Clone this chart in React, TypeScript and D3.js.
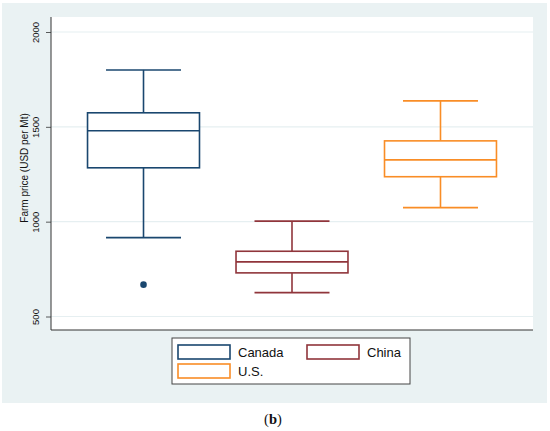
import React, { useEffect, useRef } from "react";
import * as d3 from "d3";

// values (USD per Mt)
const countries = ["Canada", "China", "U.S."];
const colors = ["#1a476f", "#90353b", "#f98d26"];
const whiskerLow = [916, 626, 1074];
const q1 = [1284, 730, 1237];
const medians = [1479, 788, 1326];
const q3 = [1574, 844, 1426];
const whiskerHigh = [1800, 1003, 1637];
const outliers = [{ country: "Canada", value: 668 }];
const yTicks = [500, 1000, 1500, 2000];

const W = 550;
const H = 431;

const App = () => {
  const ref = useRef<SVGSVGElement>(null);

  useEffect(() => {
    const svg = d3.select(ref.current);
    svg.selectAll("*").remove();

    const plot = { left: 51, right: 533, top: 17, bottom: 330 };

    // stata-ish background
    svg
      .append("rect")
      .attr("x", 2)
      .attr("y", 3)
      .attr("width", 545)
      .attr("height", 400)
      .attr("fill", "#eaf2f3");
    svg
      .append("rect")
      .attr("x", plot.left)
      .attr("y", plot.top)
      .attr("width", plot.right - plot.left)
      .attr("height", plot.bottom - plot.top)
      .attr("fill", "#ffffff");

    const y = d3.scaleLinear().domain([500, 2000]).range([316.5, 32]);
    const x = d3
      .scalePoint()
      .domain(countries)
      .range([plot.left, plot.right])
      .padding(0.623);
    const step = x.step();
    const boxW = step * 0.754;
    const capW = step * 0.505;

    // gridlines
    svg
      .append("g")
      .selectAll("line")
      .data(yTicks)
      .join("line")
      .attr("x1", plot.left)
      .attr("x2", plot.right)
      .attr("y1", (d) => y(d))
      .attr("y2", (d) => y(d))
      .attr("stroke", "#e6eff1")
      .attr("stroke-width", 1.2);

    // y axis
    const yAxis = svg
      .append("g")
      .attr("transform", `translate(${plot.left},0)`)
      .call(d3.axisLeft(y).tickValues(yTicks).tickSize(5).tickPadding(3).tickFormat(d3.format("d")));
    yAxis.select(".domain").remove();
    yAxis.selectAll(".tick line").attr("stroke", "#333").attr("stroke-width", 0.8);
    yAxis
      .selectAll(".tick text")
      .attr("font-family", "Liberation Sans, Arial, sans-serif")
      .attr("font-size", 9.5)
      .attr("fill", "#111")
      .attr("text-anchor", "middle")
      .attr("x", null)
      .attr("dy", null)
      .attr("transform", "translate(-12,0) rotate(-90)");

    svg
      .append("line")
      .attr("x1", plot.left)
      .attr("x2", plot.left)
      .attr("y1", plot.top)
      .attr("y2", plot.bottom)
      .attr("stroke", "#333")
      .attr("stroke-width", 1);
    svg
      .append("line")
      .attr("x1", plot.left)
      .attr("x2", plot.right)
      .attr("y1", plot.bottom)
      .attr("y2", plot.bottom)
      .attr("stroke", "#333")
      .attr("stroke-width", 1);

    svg
      .append("text")
      .text("Farm price (USD per Mt)")
      .attr("transform", `translate(28,168) rotate(-90)`)
      .attr("text-anchor", "middle")
      .attr("font-family", "Liberation Sans, Arial, sans-serif")
      .attr("font-size", 10)
      .attr("fill", "#111");

    // boxes
    countries.forEach((c, i) => {
      const cx = x(c) as number;
      const g = svg
        .append("g")
        .attr("stroke", colors[i])
        .attr("stroke-width", 1.6)
        .attr("fill", "none");
      g.append("line")
        .attr("x1", cx)
        .attr("x2", cx)
        .attr("y1", y(q3[i]))
        .attr("y2", y(whiskerHigh[i]));
      g.append("line")
        .attr("x1", cx)
        .attr("x2", cx)
        .attr("y1", y(q1[i]))
        .attr("y2", y(whiskerLow[i]));
      [whiskerHigh[i], whiskerLow[i]].forEach((v) => {
        g.append("line")
          .attr("x1", cx - capW / 2)
          .attr("x2", cx + capW / 2)
          .attr("y1", y(v))
          .attr("y2", y(v));
      });
      g.append("rect")
        .attr("x", cx - boxW / 2)
        .attr("width", boxW)
        .attr("y", y(q3[i]))
        .attr("height", y(q1[i]) - y(q3[i]))
        .attr("fill", "#fff");
      g.append("line")
        .attr("x1", cx - boxW / 2)
        .attr("x2", cx + boxW / 2)
        .attr("y1", y(medians[i]))
        .attr("y2", y(medians[i]));
    });

    svg
      .append("g")
      .selectAll("circle")
      .data(outliers)
      .join("circle")
      .attr("cx", (d) => x(d.country) as number)
      .attr("cy", (d) => y(d.value))
      .attr("r", 3.3)
      .attr("fill", (d) => colors[countries.indexOf(d.country)]);

    // legend
    const lg = svg.append("g").attr("transform", "translate(172,338)");
    lg.append("rect")
      .attr("width", 238)
      .attr("height", 46)
      .attr("fill", "#fff")
      .attr("stroke", "#444")
      .attr("stroke-width", 1);
    const legendPos = [
      [6, 7],
      [135, 7],
      [6, 26],
    ];
    countries.forEach((c, i) => {
      const [lx, ly] = legendPos[i];
      lg.append("rect")
        .attr("x", lx)
        .attr("y", ly)
        .attr("width", 52)
        .attr("height", 14)
        .attr("fill", "#fff")
        .attr("stroke", colors[i])
        .attr("stroke-width", 1.6);
      lg.append("text")
        .text(c)
        .attr("x", lx + 60)
        .attr("y", ly + 12)
        .attr("font-family", "Liberation Sans, Arial, sans-serif")
        .attr("font-size", 13)
        .attr("fill", "#111");
    });

    // panel label
    const pl = svg
      .append("text")
      .attr("x", W / 2 - 2)
      .attr("y", 424)
      .attr("text-anchor", "middle")
      .attr("font-family", "Liberation Serif, Times New Roman, serif")
      .attr("font-size", 14.5)
      .attr("fill", "#111");
    pl.append("tspan").text("(");
    pl.append("tspan").text("b").attr("font-weight", "bold");
    pl.append("tspan").text(")");
  }, []);

  return (
    <div style={{ width: W, height: H }}>
      <style>{"body{margin:0}"}</style>
      <svg ref={ref} width={W} height={H} viewBox={`0 0 ${W} ${H}`}></svg>
    </div>
  );
};

export default App;
